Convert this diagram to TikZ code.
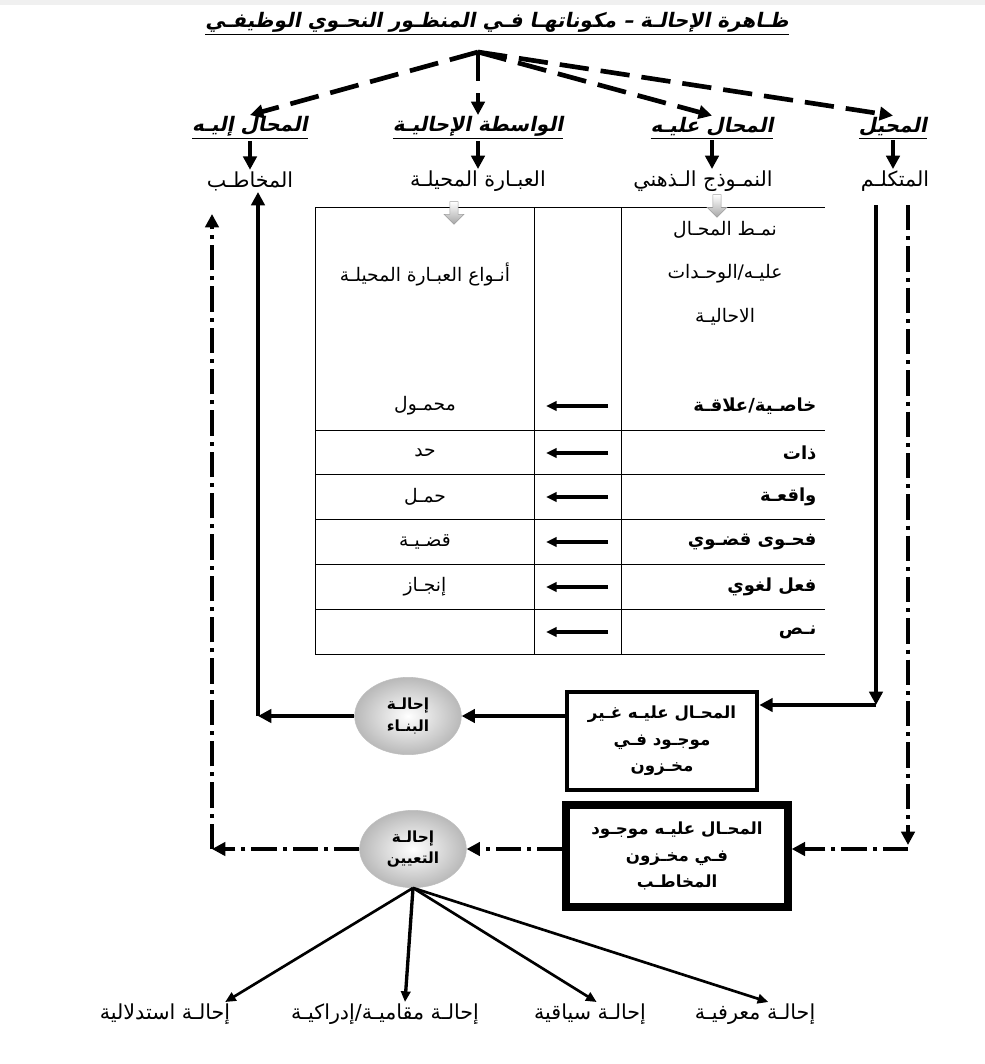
\documentclass[tikz,border=0pt]{standalone}
\usepackage{fontspec}
\newfontfamily\arabicfont[Script=Arabic]{DejaVu Sans}
\newfontfamily\arabicbf[Script=Arabic]{DejaVu Sans Bold}
\newfontfamily\arabicbi[Script=Arabic,FakeSlant=0.2]{DejaVu Sans Bold}
\TeXXeTstate=1
\usetikzlibrary{arrows.meta,shapes.geometric,shapes.arrows}
\newcommand{\artxt}[1]{\beginR #1\endR}

\begin{document}
\begin{tikzpicture}[x=0.75pt,y=-0.75pt,
  lbl/.style={font=\arabicfont\fontsize{15.5}{18}\selectfont, inner sep=1pt},
  hdr/.style={font=\arabicbi\fontsize{15}{18}\selectfont, inner sep=1pt},
  cellbf/.style={font=\arabicbf\fontsize{13.5}{16}\selectfont, inner sep=1pt, anchor=east},
  cell/.style={font=\arabicfont\fontsize{14}{16}\selectfont, inner sep=1pt},
  storebox/.style={draw, font=\arabicbf\fontsize{12.5}{20}\selectfont, align=center},
  refell/.style={ellipse, draw=gray!50, shading=radial, inner color=white, outer color=gray!55,
    minimum width=80pt, minimum height=58pt, inner sep=0pt,
    font=\arabicbf\fontsize{11.5}{16}\selectfont, align=center},
  blockdown/.style={single arrow, shape border rotate=270, draw=gray!75, top color=white,
    bottom color=gray!70, minimum width=15pt, minimum height=17pt, inner sep=1.5pt,
    single arrow head extend=2.5pt},
  headtip/.style={-{Triangle[length=10pt,width=10pt]}},
  smalltip/.style={-{Triangle[length=8pt,width=7pt]}},
  bigline/.style={line width=3.5pt},
  dashline/.style={line width=3.5pt, dash pattern=on 22pt off 9pt},
  dotdash/.style={line width=3.5pt, dash pattern=on 19pt off 4.5pt on 3pt off 4.5pt},
]
\useasboundingbox (0,0) rectangle (985,1064);
\fill[gray!12] (0,0) rectangle (985,5);

% title
\node[hdr] (title) at (497,24)
  {\underline{\artxt{ظـاهرة الإحالـة – مكوناتهـا فـي المنظـور النحـوي الوظيفـي}}};
\coordinate (apex) at (478,52);

% the four components
\node[hdr] (h1) at (893,128) {\underline{\artxt{المحيل}}};
\node[hdr] (h2) at (712,128) {\underline{\artxt{المحال عليـه}}};
\node[hdr] (h3) at (478,128) {\underline{\artxt{الواسطة الإحاليـة}}};
\node[hdr] (h4) at (250,128) {\underline{\artxt{المحال إليـه}}};

\node[lbl] (l1) at (895,181) {\artxt{المتكلـم}};
\node[lbl] (l2) at (703,181) {\artxt{النمـوذج الـذهني}};
\node[lbl] (l3) at (478,181) {\artxt{العبـارة المحيلـة}};
\node[lbl] (l4) at (250,181) {\artxt{المخاطـب}};

\draw[dashline, headtip] (apex) -- (h1.north);
\draw[dashline, headtip] (apex) -- (h2.north);
\draw[dashline, headtip] (apex) -- (h3.north);
\draw[dashline, headtip] (apex) -- (h4.north);

\foreach \i in {1,...,4}
  \draw[line width=3pt, headtip] (h\i.south) -- (h\i.south |- l\i.north);

% table
\draw (315,207) -- (825,207);
\draw (315,207) -- (315,654) -- (825,654);
\draw (534,207) -- (534,654);
\draw (621,207) -- (621,654);
\foreach \y in {430,474,519,564,609}
  \draw (315,\y) -- (825,\y);

\node[blockdown] (bd1) at (454,211) {};
\node[blockdown] (bd2) at (717,204) {};

\node[cell] (tl) at (425,274) {\artxt{أنـواع العبـارة المحيلـة}};
\node[cell] (tr1) at (725,230) {\artxt{نمـط المحـال}};
\node[cell] (tr2) at (725,274) {\artxt{عليـه/الوحـدات}};
\node[cell] (tr3) at (725,317) {\artxt{الاحاليـة}};

\foreach \y/\r/\l [count=\n] in {406/{خاصـية/علاقـة}/محمـول, 453/ذات/حد, 497/واقعـة/حمـل,
    542/فحـوى قضـوي/قضـيـة, 587/فعل لغوي/إنجـاز, 632/نـص/{}} {
  \node[cellbf] (r\n) at (818,\y) {\artxt{\r}};
  \node[cell] (t\n) at (425,\y) {\artxt{\l}};
  \coordinate (ma\n) at (608,\y);
  \coordinate (mb\n) at (546,\y);
  \draw[line width=3pt, smalltip] (ma\n) -- (mb\n);
}

% stores and reference kinds
\node[storebox, line width=3pt, minimum width=143pt, minimum height=73pt] (box1) at (662,741)
  {\artxt{المحـال عليـه غـير}\\\artxt{موجـود فـي}\\\artxt{مخـزون}};
\node[storebox, line width=6pt, minimum width=166pt, minimum height=76pt] (box2) at (677,856)
  {\artxt{المحـال عليـه موجـود}\\\artxt{فـي مخـزون}\\\artxt{المخاطـب}};

\node[refell] (ell1) at (408,716) {\artxt{إحالـة}\\\artxt{البنـاء}};
\node[refell] (ell2) at (413,849) {\artxt{إحالـة}\\\artxt{التعيين}};

% solid path
\coordinate (s1) at (876,205);
\coordinate (s2) at (876,705);
\coordinate (s3) at (258,716);
\coordinate (s4) at (258,192);
\draw[bigline, headtip] (s1) -- (s2);
\draw[bigline, headtip] (s2) -- (box1.east |- s2);
\draw[bigline, headtip] (box1.west |- ell1) -- (ell1.east);
\draw[bigline, headtip] (ell1.west) -- (s3);
\draw[bigline, headtip] (s3) -- (s4);

% dash-dot path
\coordinate (d1) at (908,205);
\coordinate (d2) at (908,845);
\coordinate (d3) at (212,849);
\coordinate (d4) at (212,214);
\draw[dotdash, headtip] (d1) -- (d2);
\draw[dotdash, headtip] (d2 |- ell2) -- (box2.east |- ell2);
\draw[dotdash, headtip] (box2.west |- ell2) -- (ell2.east);
\draw[dotdash, headtip] (ell2.west) -- (d3);
\draw[dotdash, headtip] (d3) -- (d4);

% kinds of determination reference
\node[lbl] (km) at (755,1014) {\artxt{إحالـة معرفيـة}};
\node[lbl] (ks) at (590,1014) {\artxt{إحالـة سياقية}};
\node[lbl] (kq) at (385,1014) {\artxt{إحالـة مقاميـة/إدراكيـة}};
\node[lbl] (kd) at (165,1014) {\artxt{إحالـة استدلالية}};

\draw[line width=2pt, smalltip] (ell2.south) -- ([xshift=10pt]km.north);
\draw[line width=2pt, smalltip] (ell2.south) -- ([xshift=5pt]ks.north);
\draw[line width=2.5pt, smalltip] (ell2.south) -- ([xshift=15pt]kq.north);
\draw[line width=2pt, smalltip] (ell2.south) -- ([xshift=-5pt]kd.north east);
\end{tikzpicture}
\end{document}
